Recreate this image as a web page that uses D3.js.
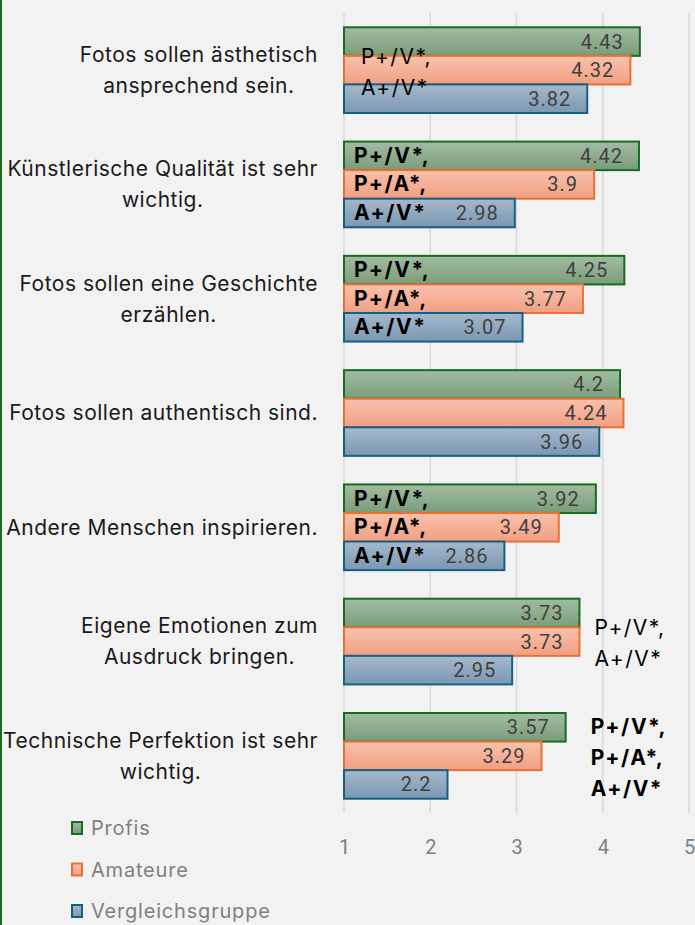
<!DOCTYPE html>
<html>
<head>
<meta charset="utf-8">
<script src="https://cdn.jsdelivr.net/npm/d3@7"></script>
<style>
  html, body { margin: 0; padding: 0; background: #f2f2f2; }
  svg { display: block; }
</style>
</head>
<body>
<script>
// ---- data ----
const categories = [
  "Fotos sollen ästhetisch\nansprechend sein.",
  "Künstlerische Qualität ist sehr\nwichtig.",
  "Fotos sollen eine Geschichte\nerzählen.",
  "Fotos sollen authentisch sind.",
  "Andere Menschen inspirieren.",
  "Eigene Emotionen zum\nAusdruck bringen.",
  "Technische Perfektion ist sehr\nwichtig."
];
const seriesNames = ["Profis", "Amateure", "Vergleichsgruppe"];
const profis   = [4.43, 4.42, 4.25, 4.2, 3.92, 3.73, 3.57];
const amateure = [4.32, 3.9, 3.77, 4.24, 3.49, 3.73, 3.29];
const vergleich = [3.82, 2.98, 3.07, 3.96, 2.86, 2.95, 2.2];
const xTicks = [1, 2, 3, 4, 5];
// significance notes per category
const notes = [
  { cat: 0, lines: ["P+/V*,", "A+/V*"], bold: false, place: "boxInside" },
  { cat: 1, lines: ["P+/V*,", "P+/A*,", "A+/V*"], bold: true, place: "bars" },
  { cat: 2, lines: ["P+/V*,", "P+/A*,", "A+/V*"], bold: true, place: "bars" },
  { cat: 4, lines: ["P+/V*,", "P+/A*,", "A+/V*"], bold: true, place: "bars" },
  { cat: 5, lines: ["P+/V*,", "A+/V*"], bold: false, place: "boxOutside" },
  { cat: 6, lines: ["P+/V*,", "P+/A*,", "A+/V*"], bold: true, place: "boxOutside" }
];

const series = [profis, amateure, vergleich];
const fills = [["#a2bda2", "#7a9c7a"], ["#f8c2ad", "#f19f82"], ["#a6b9cb", "#7a97b2"]];
const strokes = ["#196B24", "#E97132", "#156082"];

const W = 695, H = 925;
const svg = d3.select("body").append("svg").attr("width", W).attr("height", H);
svg.append("rect").attr("width", W).attr("height", H).attr("fill", "#f2f2f2");
svg.append("rect").attr("x", 0).attr("y", 0).attr("width", 2).attr("height", H).attr("fill", "#196B24");

const defs = svg.append("defs");
fills.forEach((f, i) => {
  const g = defs.append("linearGradient").attr("id", "g" + i)
    .attr("x1", 0).attr("y1", 0).attr("x2", 0).attr("y2", 1);
  g.append("stop").attr("offset", "0%").attr("stop-color", f[0]);
  g.append("stop").attr("offset", "100%").attr("stop-color", f[1]);
});

const plotTop = 13, plotBottom = 813;
const x = d3.scaleLinear().domain([1, 5]).range([344, 689]);
const y = d3.scaleBand().domain(d3.range(categories.length)).range([plotTop, plotBottom])
  .paddingInner(0.25).paddingOuter(0.125);
const ySub = d3.scaleBand().domain(d3.range(series.length)).range([0, y.bandwidth()]);

const numFont = "Roboto, 'Liberation Sans', sans-serif";
const txtFont = "Inter, Roboto, sans-serif";
const catSize = 21, catLS = 0.5;

// gridlines
svg.append("g").selectAll("line").data(xTicks).join("line")
  .attr("x1", d => x(d)).attr("x2", d => x(d))
  .attr("y1", plotTop).attr("y2", plotBottom)
  .attr("stroke", "#d9d9d9").attr("stroke-width", 1.6);

// bars
const gCat = svg.append("g").selectAll("g").data(categories).join("g")
  .attr("transform", (d, i) => `translate(0,${y(i)})`);
gCat.each(function(c, ci) {
  const g = d3.select(this);
  series.forEach((s, si) => {
    g.append("rect")
      .attr("x", x(1)).attr("y", ySub(si))
      .attr("width", x(s[ci]) - x(1)).attr("height", ySub.bandwidth())
      .attr("fill", `url(#g${si})`).attr("stroke", strokes[si]).attr("stroke-width", 2);
  });
  series.forEach((s, si) => {
    g.append("text")
      .attr("x", x(s[ci]) - 16).attr("y", ySub(si) + ySub.bandwidth() / 2)
      .attr("dy", "0.35em").attr("text-anchor", "end")
      .attr("font-family", numFont).attr("font-size", 20).attr("letter-spacing", 1)
      .attr("fill", "#404040").text(String(s[ci]));
  });
});

// category labels: lines centered within block, block right-aligned
const labelRight = 318, lineH = 31;
categories.forEach((c, ci) => {
  const lines = c.split("\n");
  const t = svg.append("text").attr("font-family", txtFont).attr("font-size", catSize)
    .attr("letter-spacing", catLS).attr("fill", "#1a1a1a").attr("text-anchor", "middle");
  const cy = y(ci) + y.bandwidth() / 2;
  const widths = lines.map(l => {
    const tt = svg.append("text").attr("font-family", txtFont).attr("font-size", catSize)
      .attr("letter-spacing", catLS).text(l);
    const w = tt.node().getComputedTextLength(); tt.remove(); return w;
  });
  const cx = labelRight - d3.max(widths) / 2;
  lines.forEach((l, li) => {
    t.append("tspan").attr("x", cx)
      .attr("y", cy + (li - (lines.length - 1) / 2) * lineH)
      .attr("dy", "0.35em").text(l);
  });
});

// significance notes
notes.forEach(n => {
  const top = y(n.cat);
  const cy = top + y.bandwidth() / 2;
  const g = svg.append("g").attr("font-family", txtFont).attr("font-size", 21)
    .attr("font-weight", n.bold ? "bold" : "normal").attr("fill", "#000");
  if (n.place === "bars") {
    n.lines.forEach((l, li) => {
      g.append("text").attr("x", x(1) + 10).attr("y", top + ySub(li) + ySub.bandwidth() / 2 + 7)
        .attr("letter-spacing", 1.5).text(l);
    });
  } else {
    const maxV = d3.max(series, s => s[n.cat]);
    const x0 = n.place === "boxInside" ? x(1) + 17 : x(maxV) + (n.bold ? 25 : 15);
    n.lines.forEach((l, li) => {
      g.append("text").attr("x", x0)
        .attr("y", cy + (li - (n.lines.length - 1) / 2) * lineH + 2)
        .attr("dy", "0.35em").attr("letter-spacing", 1.5).text(l);
    });
  }
});

// x axis
const axis = svg.append("g").attr("transform", `translate(0,${plotBottom + 24})`)
  .call(d3.axisBottom(x).tickValues(xTicks).tickSize(0).tickFormat(d3.format("d")));
axis.select(".domain").remove();
axis.selectAll("text").attr("font-family", numFont).attr("font-size", 20).attr("fill", "#808080");

// legend
const leg = svg.append("g").selectAll("g").data(seriesNames).join("g")
  .attr("transform", (d, i) => `translate(72,${828 + i * 41.5})`);
leg.append("rect").attr("x", 0).attr("y", -6).attr("width", 10).attr("height", 12)
  .attr("fill", (d, i) => `url(#g${i})`).attr("stroke", (d, i) => strokes[i]).attr("stroke-width", 2);
leg.append("text").attr("x", 19).attr("dy", "0.35em")
  .attr("font-family", txtFont).attr("font-size", 20).attr("letter-spacing", 0.8)
  .attr("fill", "#808080").text(d => d);
</script>
</body>
</html>
